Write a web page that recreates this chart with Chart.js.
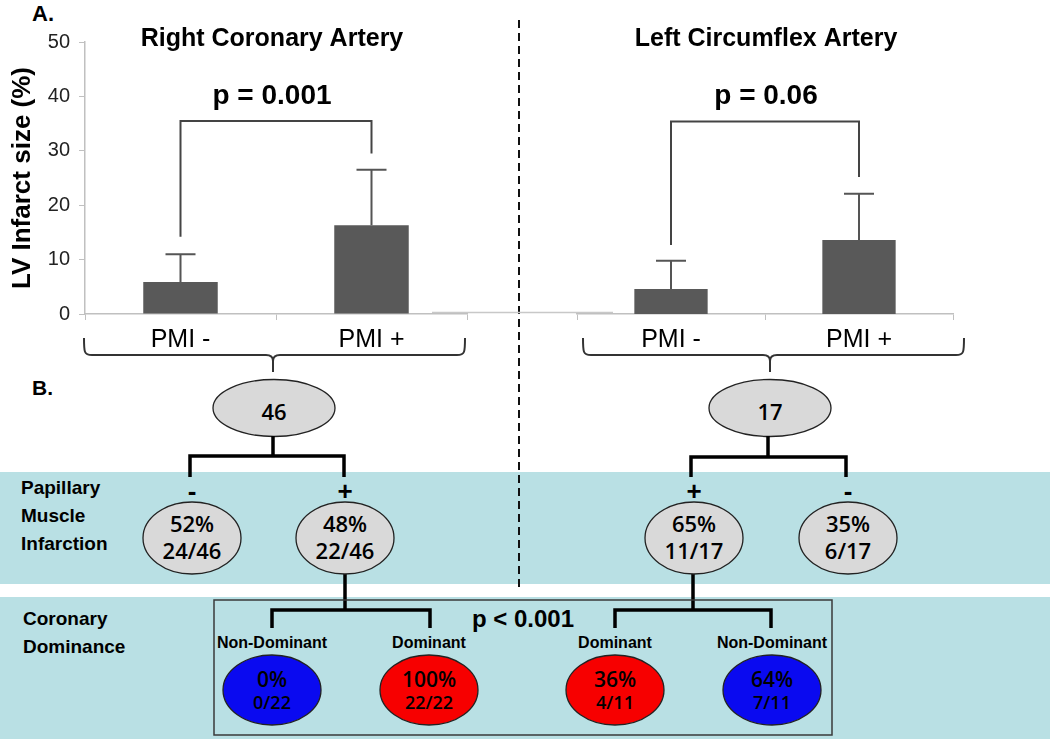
<!DOCTYPE html>
<html>
<head>
<meta charset="utf-8">
<script src="https://cdn.jsdelivr.net/npm/chart.js@4.4.1/dist/chart.umd.min.js"></script>
<style>
body { margin: 0; background: #fff; }
#wrap { position: relative; width: 1050px; height: 740px; overflow: hidden; }
#diagram { position: absolute; left: 0; top: 0; }
#rca { position: absolute; left: 0; top: 0; }
#lcx { position: absolute; left: 480px; top: 0; }
</style>
</head>
<body>
<div id="wrap">
  <svg id="diagram" width="1050" height="740" xmlns="http://www.w3.org/2000/svg"></svg>
  <canvas id="rca" width="480" height="372"></canvas>
  <canvas id="lcx" width="570" height="372"></canvas>
</div>
<script>
// panel A data
var categories = ['PMI -', 'PMI +'];
var rcaMeans = [5.9, 16.3];
var rcaSD = [5.1, 10.2];
var lcxMeans = [4.6, 13.6];
var lcxSD = [5.2, 8.5];
var yMin = 0, yMax = 50, yStep = 10;

// panel B labels
var totals = ['46', '17'];
var pmiSigns = ['-', '+', '+', '-'];
var pmiPct = ['52%', '48%', '65%', '35%'];
var pmiFrac = ['24/46', '22/46', '11/17', '6/17'];
var domNames = ['Non-Dominant', 'Dominant', 'Dominant', 'Non-Dominant'];
var domPct = ['0%', '100%', '36%', '64%'];
var domFrac = ['0/22', '22/22', '4/11', '7/11'];
var domColors = ['#0a0af0', '#f70000', '#f70000', '#0a0af0'];

var ARIAL = '"Liberation Sans", Arial, sans-serif';

// error bars, significance bracket and panel titles
var extras = {
  id: 'extras',
  afterDatasetsDraw: function (chart, args, opts) {
    var ctx = chart.ctx, y = chart.scales.y;
    var meta = chart.getDatasetMeta(0);
    var vals = chart.data.datasets[0].data;
    ctx.save();
    ctx.strokeStyle = '#555';
    ctx.lineWidth = 2;
    meta.data.forEach(function (bar, i) {
      var top = y.getPixelForValue(vals[i] + opts.sd[i]);
      ctx.beginPath();
      ctx.moveTo(bar.x, bar.y);
      ctx.lineTo(bar.x, top);
      ctx.moveTo(bar.x - 15, top);
      ctx.lineTo(bar.x + 15, top);
      ctx.stroke();
    });
    var x0 = meta.data[0].x, x1 = meta.data[1].x;
    ctx.strokeStyle = '#444';
    ctx.beginPath();
    ctx.moveTo(x0, y.getPixelForValue(opts.bracket[1]));
    ctx.lineTo(x0, y.getPixelForValue(opts.bracket[0]));
    ctx.lineTo(x1, y.getPixelForValue(opts.bracket[0]));
    ctx.lineTo(x1, y.getPixelForValue(opts.bracket[2]));
    ctx.stroke();
    ctx.fillStyle = '#000';
    ctx.textAlign = 'center';
    ctx.textBaseline = 'alphabetic';
    ctx.font = 'bold 28px ' + ARIAL;
    ctx.fillText(opts.p, (x0 + x1) / 2 + opts.dx, y.getPixelForValue(opts.pAt));
    ctx.font = 'bold 25px ' + ARIAL;
    ctx.fillText(opts.title, (x0 + x1) / 2 + opts.dx, 46);
    ctx.restore();
  }
};

function makeChart(id, means, sd, showY, pad, annot) {
  return new Chart(document.getElementById(id), {
    type: 'bar',
    data: {
      labels: categories,
      datasets: [{
        data: means,
        backgroundColor: '#595959',
        categoryPercentage: 1,
        barPercentage: 0.39
      }]
    },
    options: {
      responsive: false,
      animation: false,
      layout: { padding: pad },
      plugins: {
        legend: { display: false },
        tooltip: { enabled: false },
        extras: annot
      },
      scales: {
        x: {
          afterFit: function (s) { s.height = 58; },
          grid: { drawOnChartArea: false, tickLength: 6, color: '#c0c0c0', offset: true },
          border: { color: '#c0c0c0', width: 1.5 },
          ticks: { color: '#000', padding: 5, font: { family: ARIAL, size: 25 } }
        },
        y: {
          display: showY,
          min: yMin,
          max: yMax,
          afterFit: function (s) { s.width = showY ? 85 : 0; },
          grid: { drawOnChartArea: false, tickLength: 6, color: '#c0c0c0' },
          border: { color: '#c0c0c0', width: 1.5 },
          ticks: { stepSize: yStep, color: '#222', padding: 9, font: { family: ARIAL, size: 20 } },
          title: {
            display: true,
            text: 'LV Infarct size (%)',
            color: '#000',
            padding: { top: 7, bottom: 0 },
            font: { family: ARIAL, size: 26, weight: 'bold' }
          }
        }
      }
    },
    plugins: [extras]
  });
}

makeChart('rca', rcaMeans, rcaSD, true, { left: 0, right: 13, top: 42, bottom: 0 },
  { sd: rcaSD, bracket: [35.5, 14.2, 29.5], p: 'p = 0.001', pAt: 38.6, title: 'Right Coronary Artery', dx: -4 });
makeChart('lcx', lcxMeans, lcxSD, false, { left: 97, right: 97, top: 42, bottom: 0 },
  { sd: lcxSD, bracket: [35.4, 12.7, 25.2], p: 'p = 0.06', pAt: 38.6, title: 'Left Circumflex Artery', dx: 1 });

// panel B diagram
var NUM = '"Open Sans", "Noto Sans", sans-serif';
var s = '';
function txt(x, y, t, size, weight, family, anchor) {
  return '<text x="' + x + '" y="' + y + '" font-size="' + size + '" font-weight="' + weight +
    '" font-family=\'' + family + '\' text-anchor="' + (anchor || 'middle') + '" fill="#000">' + t + '</text>';
}
function ell(cx, cy, rx, ry, fill) {
  return '<ellipse cx="' + cx + '" cy="' + cy + '" rx="' + rx + '" ry="' + ry + '" fill="' + fill + '" stroke="#222" stroke-width="1.3"/>';
}
s += '<rect x="0" y="472" width="1050" height="112" fill="#b9e0e4"/>';
s += '<rect x="0" y="597" width="1050" height="142" fill="#b9e0e4"/>';
s += '<line x1="519" y1="20" x2="519" y2="588" stroke="#111" stroke-width="2" stroke-dasharray="8,5"/>';
s += '<line x1="432" y1="312.5" x2="613" y2="312.5" stroke="#c8c8c8" stroke-width="1.5"/>';
s += txt(32, 21, 'A.', 22, 'bold', ARIAL, 'start');
s += txt(32, 395, 'B.', 21, 'bold', ARIAL, 'start');

function brace(xl, xr, xc) {
  var yt = 338, yh = 355, yp = 372;
  return '<path d="M' + xl + ' ' + yt + ' C' + xl + ' ' + (yh - 3) + ' ' + xl + ' ' + yh + ' ' + (xl + 8) + ' ' + yh +
    ' L' + (xc - 7) + ' ' + yh + ' Q' + xc + ' ' + yh + ' ' + xc + ' ' + (yh + 6) + ' L' + xc + ' ' + yp +
    ' M' + xc + ' ' + (yh + 6) + ' Q' + xc + ' ' + yh + ' ' + (xc + 7) + ' ' + yh +
    ' L' + (xr - 8) + ' ' + yh + ' C' + xr + ' ' + yh + ' ' + xr + ' ' + (yh - 3) + ' ' + xr + ' ' + yt +
    '" fill="none" stroke="#333" stroke-width="2"/>';
}
s += brace(84, 465, 273);
s += brace(583, 964, 770);

var totalX = [274, 770];
totals.forEach(function (t, i) {
  s += ell(totalX[i], 408, 61, 28.5, '#d9d9d9');
  s += txt(totalX[i], 420, t, 22, 600, NUM);
});

var tree = 'fill="none" stroke="#000" stroke-width="3.5"';
s += '<path d="M273 436 V456 M190 477 V456 H344 V477" ' + tree + '/>';
s += '<path d="M768 436 V457 M691 477 V457 H846 V477" ' + tree + '/>';
s += '<path d="M345 574 V610 M272 628 V610 H430 V628" ' + tree + '/>';
s += '<path d="M693 574 V610 M615 628 V610 H771 V628" ' + tree + '/>';

s += txt(21, 494, 'Papillary', 19, 'bold', ARIAL, 'start');
s += txt(21, 522, 'Muscle', 19, 'bold', ARIAL, 'start');
s += txt(21, 550, 'Infarction', 19, 'bold', ARIAL, 'start');
s += txt(23, 625, 'Coronary', 19, 'bold', ARIAL, 'start');
s += txt(23, 653, 'Dominance', 19, 'bold', ARIAL, 'start');

var pmiX = [192, 345, 694, 848];
pmiX.forEach(function (cx, i) {
  s += txt(cx, 500, pmiSigns[i], 26, 'bold', ARIAL);
  s += ell(cx, 538, 49, 36, '#d9d9d9');
  s += txt(cx, 532, pmiPct[i], 22, 600, NUM);
  s += txt(cx, 559, pmiFrac[i], 22, 600, NUM);
});

s += '<rect x="214" y="600" width="618" height="135" fill="none" stroke="#3a3a3a" stroke-width="1.5"/>';
s += txt(523, 627, 'p &lt; 0.001', 24, 'bold', ARIAL);

var domX = [272, 429, 615, 772];
domX.forEach(function (cx, i) {
  s += txt(cx, 648, domNames[i], 16, 'bold', ARIAL);
  s += ell(cx, 690, 49, 35, domColors[i]);
  s += txt(cx, 687, domPct[i], 21, 600, NUM);
  s += txt(cx, 709, domFrac[i], 18, 600, NUM);
});

document.getElementById('diagram').innerHTML = s;
</script>
</body>
</html>
